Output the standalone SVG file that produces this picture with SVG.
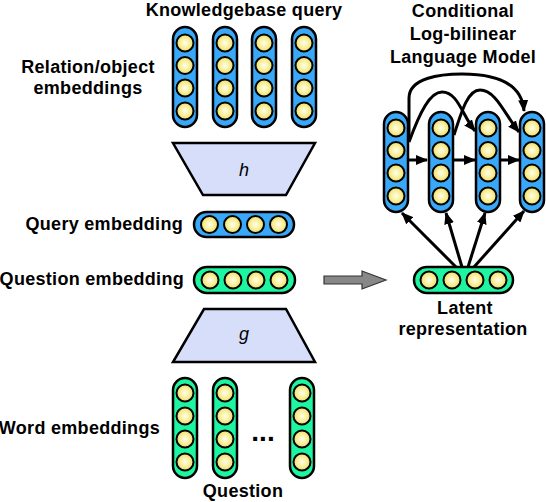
<svg xmlns="http://www.w3.org/2000/svg" width="546" height="502" viewBox="0 0 546 502">
<defs>
<radialGradient id="yg" cx="0.5" cy="0.5" r="0.5">
<stop offset="0" stop-color="#ffffee"/>
<stop offset="0.6" stop-color="#f8ee98"/>
<stop offset="1" stop-color="#eedc60"/>
</radialGradient>
<marker id="ah" viewBox="0 0 12 10" refX="11" refY="5" markerWidth="12" markerHeight="10" markerUnits="userSpaceOnUse" orient="auto">
<path d="M0,0 L12,5 L0,10 Z" fill="#000"/>
</marker>
<g id="vcolBlue">
<rect x="-12" y="0" width="24" height="100" rx="12" fill="#3aa8f8" stroke="#000" stroke-width="2.5"/>
<circle cx="0" cy="16" r="8.5" fill="url(#yg)" stroke="#000" stroke-width="2"/>
<circle cx="0" cy="38.5" r="8.5" fill="url(#yg)" stroke="#000" stroke-width="2"/>
<circle cx="0" cy="61" r="8.5" fill="url(#yg)" stroke="#000" stroke-width="2"/>
<circle cx="0" cy="84" r="8.5" fill="url(#yg)" stroke="#000" stroke-width="2"/>
</g>
<g id="vcolGreen">
<rect x="-12" y="0" width="24" height="100" rx="12" fill="#1ef5a0" stroke="#000" stroke-width="2.5"/>
<circle cx="0" cy="15" r="8.5" fill="url(#yg)" stroke="#000" stroke-width="2"/>
<circle cx="0" cy="38" r="8.5" fill="url(#yg)" stroke="#000" stroke-width="2"/>
<circle cx="0" cy="61" r="8.5" fill="url(#yg)" stroke="#000" stroke-width="2"/>
<circle cx="0" cy="84" r="8.5" fill="url(#yg)" stroke="#000" stroke-width="2"/>
</g>
<g id="hCirc">
<circle cx="-34.5" cy="0" r="8.5" fill="url(#yg)" stroke="#000" stroke-width="2"/>
<circle cx="-11.5" cy="0" r="8.5" fill="url(#yg)" stroke="#000" stroke-width="2"/>
<circle cx="11.5" cy="0" r="8.5" fill="url(#yg)" stroke="#000" stroke-width="2"/>
<circle cx="34.5" cy="0" r="8.5" fill="url(#yg)" stroke="#000" stroke-width="2"/>
</g>
</defs>
<style>
text { font-family: "Liberation Sans", Arial, sans-serif; font-weight: bold; font-size: 18px; letter-spacing: 0.3px; fill: #000; }
.it { font-style: italic; font-weight: normal; font-size: 18px; letter-spacing: 0; }
.dots { font-size: 28px; letter-spacing: 0; }
.trap { fill: #d6defa; stroke: #000; stroke-width: 2.5; stroke-linejoin: miter; }
.conn { fill: none; stroke: #000; stroke-width: 3; }
</style>

<!-- Left side labels -->
<text x="244" y="16" text-anchor="middle">Knowledgebase query</text>
<text x="88" y="73" text-anchor="middle">Relation/object</text>
<text x="88" y="94" text-anchor="middle">embeddings</text>

<g id="rel-embeddings">
<use href="#vcolBlue" x="185" y="27"/>
<use href="#vcolBlue" x="225" y="27"/>
<use href="#vcolBlue" x="264" y="27"/>
<use href="#vcolBlue" x="304" y="27"/>
</g>

<g id="h-net">
<polygon class="trap" points="173,143 315,143 286,195 203,195"/>
<text class="it" x="244" y="176" text-anchor="middle">h</text>
</g>

<g id="query-embedding">
<text x="183" y="230" text-anchor="end">Query embedding</text>
<rect x="194" y="212" width="100" height="25" rx="12.5" fill="#3aa8f8" stroke="#000" stroke-width="2.5"/>
<use href="#hCirc" x="244" y="224.5"/>
</g>

<g id="question-embedding">
<text x="184" y="285" text-anchor="end">Question embedding</text>
<rect x="194" y="267" width="101" height="26" rx="13" fill="#1ef5a0" stroke="#000" stroke-width="2.5"/>
<use href="#hCirc" x="244.5" y="280"/>
</g>

<g id="g-net">
<polygon class="trap" points="204,309 286,309 315,362 173,362"/>
<text class="it" x="244" y="340" text-anchor="middle">g</text>
</g>

<g id="word-embeddings">
<text x="160" y="434" text-anchor="end">Word embeddings</text>
<use href="#vcolGreen" x="185" y="378"/>
<use href="#vcolGreen" x="225" y="378"/>
<use href="#vcolGreen" x="302" y="378"/>
<text class="dots" x="263" y="441" text-anchor="middle">...</text>
<text x="243" y="497" text-anchor="middle">Question</text>
</g>

<!-- Right side -->
<g id="clbl-title">
<text x="463" y="17" text-anchor="middle">Conditional</text>
<text x="463" y="40" text-anchor="middle">Log-bilinear</text>
<text x="463" y="63" text-anchor="middle">Language Model</text>
</g>

<g id="lm-col1"><use href="#vcolBlue" x="396" y="112"/></g>
<g id="lm-col2"><use href="#vcolBlue" x="441" y="112"/></g>
<g id="lm-col3"><use href="#vcolBlue" x="488" y="112"/></g>
<g id="lm-col4"><use href="#vcolBlue" x="532" y="112"/></g>

<g id="latent">
<rect x="414" y="267" width="99" height="26" rx="13" fill="#1ef5a0" stroke="#000" stroke-width="2.5"/>
<use href="#hCirc" x="463.5" y="280"/>
<text x="465" y="314" text-anchor="middle">Latent</text>
<text x="463" y="335" text-anchor="middle">representation</text>
</g>

<g id="connectors">
<path class="conn" d="M408,160 H427" marker-end="url(#ah)"/>
<path class="conn" d="M453,160 H475" marker-end="url(#ah)"/>
<path class="conn" d="M500,160 H519" marker-end="url(#ah)"/>
<path class="conn" d="M409,140 V98 C409,78 440,74 462,74 C497,74 522,84 524,111" marker-end="url(#ah)"/>
<path class="conn" d="M409,142 C420,112 430,92 442,92 C458,92 462,115 475,131" marker-end="url(#ah)"/>
<path class="conn" d="M454,135 C462,110 468,90 480,90 C496,90 505,115 519,132" marker-end="url(#ah)"/>
<path class="conn" d="M456,267 L402,213" marker-end="url(#ah)"/>
<path class="conn" d="M462,267 L446,213" marker-end="url(#ah)"/>
<path class="conn" d="M468,267 L485,213" marker-end="url(#ah)"/>
<path class="conn" d="M474,267 L524,211" marker-end="url(#ah)"/>
<polygon points="324,276 362,276 362,271 386,280 362,289 362,284 324,284" fill="#888" stroke="#333" stroke-width="1.2"/>
</g>
</svg>
